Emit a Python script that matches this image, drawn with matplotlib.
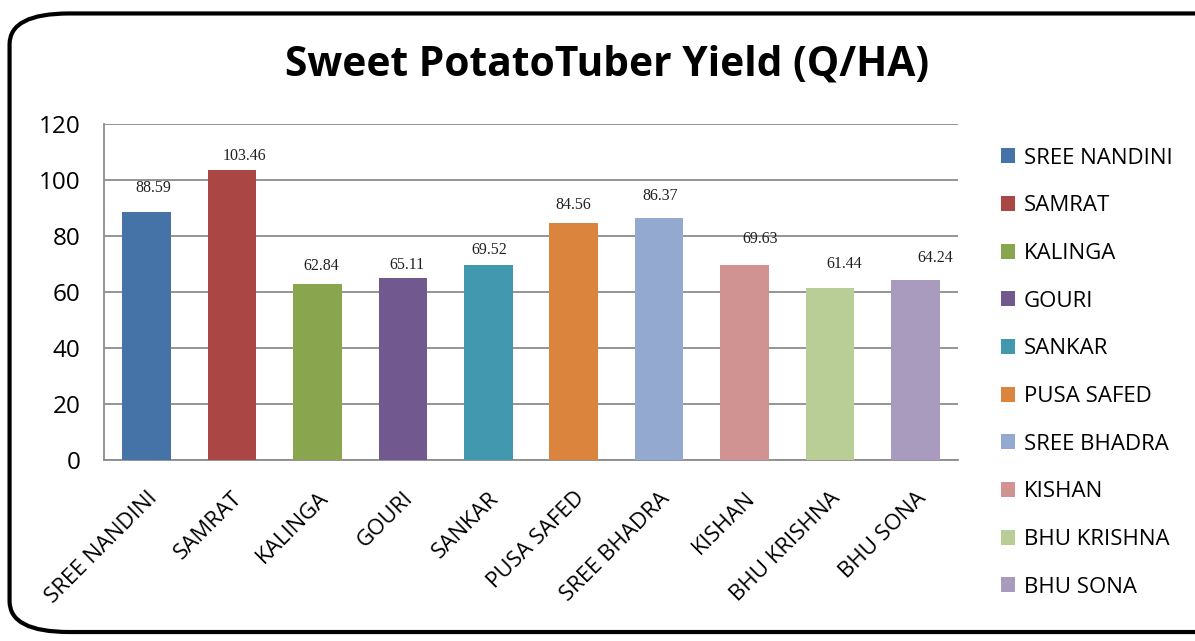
import matplotlib.pyplot as plt
from matplotlib.patches import FancyBboxPatch, Patch

varieties = ["SREE NANDINI", "SAMRAT", "KALINGA", "GOURI", "SANKAR",
             "PUSA SAFED", "SREE BHADRA", "KISHAN", "BHU KRISHNA", "BHU SONA"]
yields = [88.59, 103.46, 62.84, 65.11, 69.52, 84.56, 86.37, 69.63, 61.44, 64.24]
colors = ["#4572A7", "#AA4643", "#89A54E", "#71588F", "#4198AF",
          "#DB843D", "#93A9CF", "#D19392", "#B9CD96", "#A99BBD"]
# label offsets (points) to mimic the spreadsheet's label placement
label_dx = [5, 9, 3, 3, 1, 0, 1, 11, 10, 14]
label_dy = [17, 10, 13, 9, 11, 13, 16, 19, 17, 16]

fig = plt.figure(figsize=(11.95, 6.41), dpi=100)
fig.patches.append(FancyBboxPatch((0.008, 0.014), 1.2, 0.965,
                                  boxstyle="round,pad=0,rounding_size=0.05",
                                  transform=fig.transFigure, fill=False,
                                  edgecolor="black", linewidth=3.0,
                                  mutation_aspect=641 / 1195 * 1.8))

ax = fig.add_axes([0.087, 0.2824, 0.7147, 0.5242])
x = range(len(varieties))
ax.bar(x, yields, width=0.57, color=colors, zorder=3)

for i, v in enumerate(yields):
    ax.annotate(f"{v:.2f}", (i, v), xytext=(label_dx[i], label_dy[i]),
                textcoords="offset points", ha="center", va="center",
                fontsize=11.5, family="Liberation Serif", color="#222222")

ax.set_xlim(-0.5, len(varieties) - 0.5)
ax.set_ylim(0, 120)
ax.set_yticks(range(0, 121, 20))
ax.yaxis.grid(True, color="#8c8c8c", linewidth=1.3, zorder=0)
ax.set_axisbelow(True)
for s in ["top", "right"]:
    ax.spines[s].set_visible(False)
for s in ["left", "bottom"]:
    ax.spines[s].set_color("#8c8c8c")
    ax.spines[s].set_linewidth(1.3)
ax.tick_params(length=0)
ax.tick_params(axis="y", labelsize=17.5, pad=17)
ax.set_yticklabels([str(t) for t in range(0, 121, 20)], family="Open Sans")
ax.set_xticks(list(x))
ax.set_xticklabels(varieties, rotation=45, ha="right", va="top",
                   rotation_mode="anchor", fontsize=16, family="Open Sans")
ax.tick_params(axis="x", pad=20)

fig.text(0.508, 0.899, "Sweet PotatoTuber Yield (Q/HA)", ha="center",
         va="center", fontsize=29.3, fontweight="bold", family="Open Sans")

handles = [Patch(facecolor=c, label=n) for c, n in zip(colors, varieties)]
fig.legend(handles=handles, loc="upper left", bbox_to_anchor=(0.828, 0.787),
           frameon=False, prop={"family": "Open Sans", "size": 16},
           labelspacing=1.2, handlelength=0.65, handleheight=0.65,
           handletextpad=0.4, borderpad=0)

fig.savefig("out.png", dpi=100)
